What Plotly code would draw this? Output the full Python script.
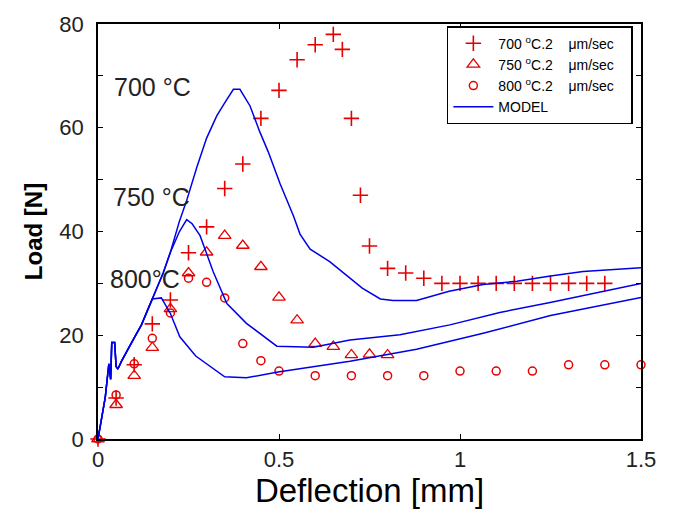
import plotly.graph_objects as go

# Measured load-deflection points, 2 um/sec loading rate
x_700 = [0.0, 0.05, 0.10, 0.15, 0.20, 0.25, 0.30, 0.35, 0.40, 0.45, 0.50, 0.55, 0.60, 0.65, 0.675,
         0.70, 0.725, 0.75, 0.80, 0.85, 0.90, 0.95, 1.00, 1.05, 1.10, 1.15, 1.20, 1.25, 1.30, 1.35, 1.40]
y_700 = [0.0, 7.9, 14.3, 22.2, 26.8, 35.9, 40.9, 48.3, 53.0, 61.8, 67.2, 73.1, 76.0, 78.0, 75.1,
         61.8, 47.0, 37.2, 32.9, 32.0, 31.0, 30.0, 30.0, 30.0, 30.0, 30.0, 30.0, 30.0, 30.0, 30.0, 30.0]

x_750 = [0.0, 0.05, 0.10, 0.15, 0.20, 0.25, 0.30, 0.35, 0.40, 0.45, 0.50, 0.55, 0.60, 0.65, 0.70, 0.75, 0.80]
y_750 = [0.0, 6.6, 12.2, 17.6, 25.1, 32.0, 36.0, 39.2, 37.3, 33.2, 27.3, 22.9, 18.4, 17.8, 16.2, 16.3, 16.2]

x_800 = [0.0, 0.05, 0.10, 0.15, 0.20, 0.25, 0.30, 0.35, 0.40, 0.45, 0.50, 0.60, 0.70,
         0.80, 0.90, 1.00, 1.10, 1.20, 1.30, 1.40, 1.50]
y_800 = [0.0, 8.5, 14.5, 19.4, 24.3, 31.0, 30.2, 27.2, 18.4, 15.1, 13.1, 12.2, 12.2,
         12.2, 12.2, 13.1, 13.1, 13.1, 14.3, 14.3, 14.3]

# Model predictions (shared elastic start, then one branch per temperature)
x_start = [0.0, 0.01, 0.02, 0.03, 0.035, 0.038, 0.046, 0.05, 0.055, 0.065, 0.08, 0.10, 0.12, 0.15]
y_start = [0.0, 4.0, 8.0, 14.5, 11.5, 18.6, 18.6, 14.0, 13.5, 15.0, 17.0, 19.5, 22.0, 27.0]

xm_700 = x_start + [0.18, 0.20, 0.225, 0.245, 0.273, 0.30, 0.328, 0.35, 0.374, 0.392, 0.42, 0.447, 0.47,
                    0.503, 0.54, 0.558, 0.586, 0.64, 0.73, 0.78, 0.815, 0.88, 0.97, 1.064, 1.157, 1.25,
                    1.34, 1.50]
ym_700 = y_start + [32.0, 36.0, 42.0, 46.0, 52.4, 58.0, 62.3, 64.8, 67.4, 67.4, 64.2, 59.2, 55.4,
                    49.2, 43.0, 39.5, 36.6, 34.2, 29.1, 27.0, 26.7, 26.7, 28.5, 29.8, 30.4, 31.4,
                    32.3, 33.0]

xm_750 = x_start + [0.18, 0.20, 0.225, 0.245, 0.26, 0.282, 0.318, 0.356, 0.41, 0.494, 0.595, 0.696,
                    0.834, 0.972, 1.11, 1.249, 1.50]
ym_750 = y_start + [32.0, 36.0, 40.0, 42.3, 41.5, 39.2, 32.3, 26.1, 22.3, 17.9, 17.7, 19.1,
                    20.1, 22.0, 24.4, 26.3, 30.0]

xm_800 = x_start + [0.175, 0.20, 0.226, 0.27, 0.35, 0.41, 0.497, 0.696, 0.88, 1.064, 1.25, 1.50]
ym_800 = y_start + [27.2, 24.2, 19.7, 16.0, 12.0, 11.8, 12.9, 15.0, 17.3, 20.4, 23.8, 27.3]

y_ticks = [0, 20, 40, 60, 80]
y_minor_step = 10
x_ticks = [0, 0.5, 1, 1.5]
x_ticktext = ["0", "0.5", "1", "1.5"]

RED = "rgb(230,0,0)"
BLUE = "rgb(0,0,230)"
FONT = "Liberation Sans, Arial, sans-serif"
GAP = "\u00a0" * 4
PAD = "\u00a0" * 3

fig = go.Figure()

fig.add_trace(go.Scatter(
    x=x_700, y=y_700, mode="markers", name=f"700 <sup>o</sup>C.2{GAP}μm/sec{PAD}",
    marker=dict(symbol="cross-thin-open", size=11, color=RED, line=dict(color=RED, width=1.6)),
    cliponaxis=False))
fig.add_trace(go.Scatter(
    x=x_750, y=y_750, mode="markers", name=f"750 <sup>o</sup>C.2{GAP}μm/sec{PAD}",
    marker=dict(symbol="triangle-up-open", size=11, color=RED, line=dict(color=RED, width=1.3)),
    cliponaxis=False))
fig.add_trace(go.Scatter(
    x=x_800, y=y_800, mode="markers", name=f"800 <sup>o</sup>C.2{GAP}μm/sec{PAD}",
    marker=dict(symbol="circle-open", size=8, color=RED, line=dict(color=RED, width=1.5)),
    cliponaxis=False))

for i, (xm, ym) in enumerate([(xm_700, ym_700), (xm_750, ym_750), (xm_800, ym_800)]):
    fig.add_trace(go.Scatter(
        x=xm, y=ym, mode="lines", name="MODEL", showlegend=(i == 0),
        line=dict(color=BLUE, width=1.5)))

for label, lx, ly in [("700 °C", 0.04, 67.8), ("750 °C", 0.035, 46.6), ("800°C", 0.028, 30.9)]:
    fig.add_annotation(x=lx, y=ly, text=label, showarrow=False, xanchor="left",
                       font=dict(family=FONT, size=25, color="#222"))

axis_common = dict(showline=True, linecolor="black", linewidth=1.5, mirror="allticks",
                   ticks="inside", ticklen=5, tickcolor="black", showgrid=False, zeroline=False,
                   tickfont=dict(family=FONT, size=22, color="#222"))

fig.update_xaxes(range=[0, 1.5], tickvals=x_ticks, ticktext=x_ticktext,
                 title=dict(text="Deflection [mm]", font=dict(family=FONT, size=33, color="black"),
                            standoff=8), **axis_common)
fig.update_yaxes(range=[0, 80], tickvals=y_ticks, ticklabelstandoff=8,
                 minor=dict(dtick=y_minor_step, ticks="inside", ticklen=5, tickcolor="black",
                            showgrid=False),
                 title=dict(text="<b>Load [N]</b>", font=dict(family=FONT, size=24, color="black"),
                            standoff=10), **axis_common)

fig.update_layout(
    width=677, height=515,
    margin=dict(l=98, r=36, t=16, b=73),
    plot_bgcolor="white", paper_bgcolor="white",
    legend=dict(x=0.985, y=0.995, xanchor="right", yanchor="top",
                bgcolor="white", bordercolor="black", borderwidth=1.5,
                font=dict(family=FONT, size=14, color="black"),
                tracegroupgap=0, itemwidth=40),
)

fig.write_html("out.html")
